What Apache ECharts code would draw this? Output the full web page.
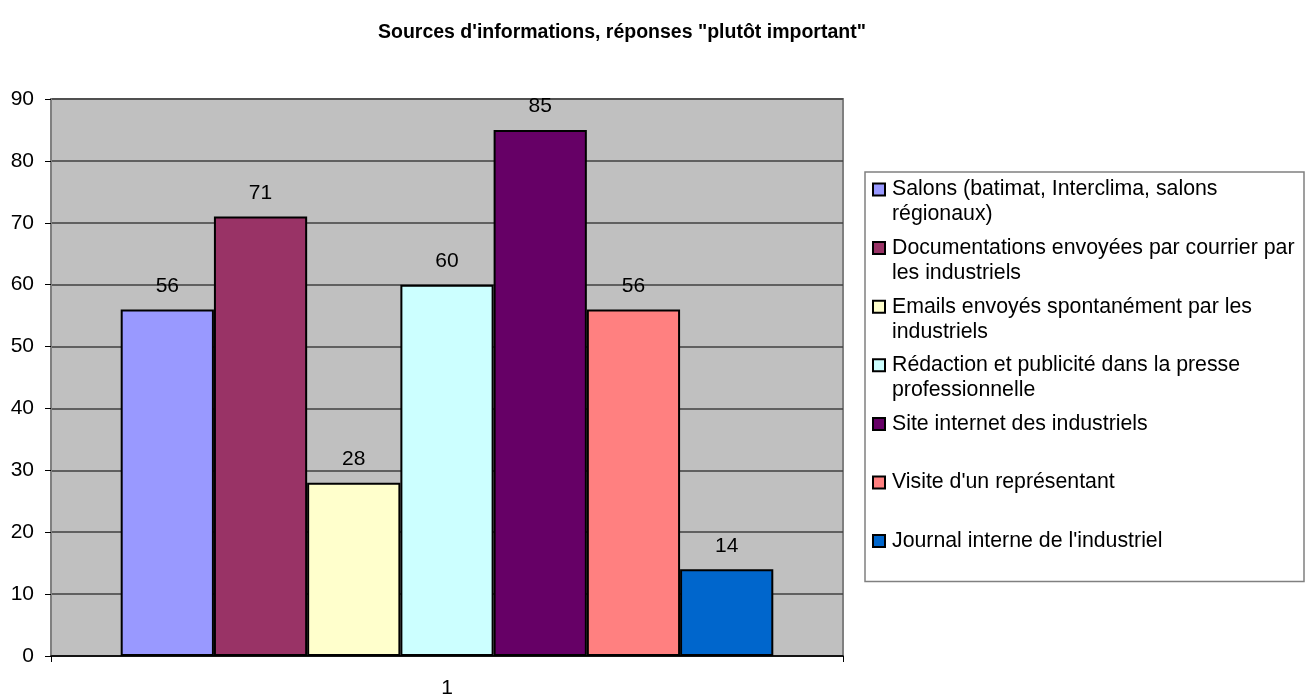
<!DOCTYPE html>
<html>
<head>
<meta charset="utf-8">
<script src="https://cdn.jsdelivr.net/npm/echarts@6/dist/echarts.min.js"></script>
<style>
html,body{margin:0;padding:0;background:#fff;}
#chart{width:1312px;height:695px;}
</style>
</head>
<body>
<div id="chart"></div>
<script>
const titleText = 'Sources d\'informations, réponses "plutôt important"';
const categories = ['1'];
const seriesNames = [
  'Salons (batimat, Interclima, salons régionaux)',
  'Documentations envoyées par courrier par les industriels',
  'Emails envoyés spontanément par les industriels',
  'Rédaction et publicité dans la presse professionnelle',
  'Site internet des industriels',
  "Visite d'un représentant",
  "Journal interne de l'industriel"
];
const legendLabels = [
  'Salons (batimat, Interclima, salons\nrégionaux)',
  'Documentations envoyées par courrier par\nles industriels',
  'Emails envoyés spontanément par les\nindustriels',
  'Rédaction et publicité dans la presse\nprofessionnelle',
  'Site internet des industriels\n ',
  "Visite d'un représentant\n ",
  "Journal interne de l'industriel\n "
];
const seriesValues = [56, 71, 28, 60, 85, 56, 14];
const seriesColors = ['#9999FF', '#993366', '#FFFFCC', '#CCFFFF', '#660066', '#FF8080', '#0066CC'];
const yTicks = { min: 0, max: 90, interval: 10 };

const FONT = 'Liberation Sans, Arial, sans-serif';
const chart = echarts.init(document.getElementById('chart'), null, { renderer: 'canvas' });

const labelMap = {};
seriesNames.forEach((n, i) => { labelMap[n] = legendLabels[i]; });

const series = seriesNames.map((name, i) => ({
  name: name,
  type: 'bar',
  data: [seriesValues[i]],
  barGap: '0%',
  barCategoryGap: '17.6%',
  itemStyle: { color: seriesColors[i], borderColor: '#000', borderWidth: 2 },
  label: {
    show: true, position: 'top', distance: 13,
    color: '#000', fontFamily: FONT, fontSize: 21
  }
}));

chart.setOption({
  animation: false,
  backgroundColor: '#fff',
  title: {
    text: titleText,
    left: 378, top: 23, padding: 0,
    textStyle: { fontFamily: FONT, fontWeight: 'bold', fontSize: 19.5, color: '#000' }
  },
  grid: {
    left: 51, right: 469, top: 99, bottom: 39,
    outerBoundsMode: 'none',
    containLabel: false,
    show: true, backgroundColor: '#C0C0C0', borderColor: '#808080', borderWidth: 2
  },
  legend: {
    orient: 'vertical',
    left: 865, top: 172,
    padding: [5, 7, 3, 7],
    itemGap: 8.6,
    itemWidth: 12, itemHeight: 37,
    icon: 'path://M0,0h12v12h-12z M0,37',
    backgroundColor: '#fff',
    borderColor: '#808080', borderWidth: 1.5,
    selectedMode: false,
    itemStyle: { borderColor: '#000', borderWidth: 2 },
    formatter: name => labelMap[name],
    textStyle: {
      fontFamily: FONT, fontSize: 21.3, color: '#000',
      lineHeight: 25, width: 405, padding: [0, 0, 0, 2]
    },
    data: seriesNames
  },
  xAxis: {
    type: 'category',
    data: categories,
    axisLine: { show: true, lineStyle: { color: '#000', width: 1.5 } },
    axisTick: { show: true, length: 6, lineStyle: { color: '#000' } },
    axisLabel: { margin: 22, color: '#000', fontFamily: FONT, fontSize: 21 },
    splitLine: { show: false }
  },
  yAxis: {
    type: 'value',
    min: yTicks.min, max: yTicks.max, interval: yTicks.interval,
    axisLine: { show: true, lineStyle: { color: '#808080', width: 2 } },
    axisTick: { show: true, length: 6, lineStyle: { color: '#000' } },
    axisLabel: { margin: 17, color: '#000', fontFamily: FONT, fontSize: 21 },
    splitLine: { show: true, lineStyle: { color: '#404040', width: 1.5 } }
  },
  series: series
});
</script>
</body>
</html>
